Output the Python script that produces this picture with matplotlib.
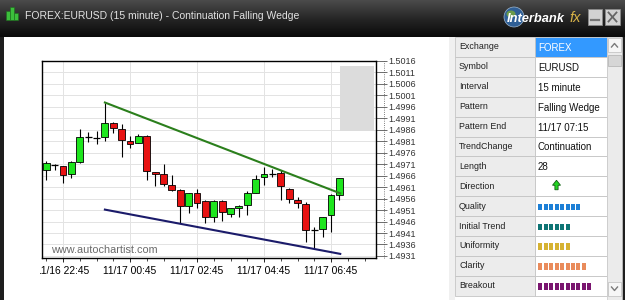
import numpy as np
import pandas as pd
import matplotlib
matplotlib.use("Agg")
import matplotlib.pyplot as plt
from matplotlib.patches import Rectangle, Polygon, Circle, Ellipse
from matplotlib.colors import LinearSegmentedColormap
from matplotlib.transforms import Bbox, TransformedBbox

# ==========================================
# 1. DATA (EURUSD 15 minute candles)
# ==========================================
opens = [1.49686, 1.49705, 1.49700, 1.49666, 1.49719, 1.49830, 1.49823, 1.49830,
         1.49890, 1.49864, 1.49810, 1.49801, 1.49835, 1.49676, 1.49666, 1.49621,
         1.49596, 1.49527, 1.49584, 1.49550, 1.49480, 1.49550, 1.49495, 1.49521,
         1.49531, 1.49585, 1.49654, 1.49666, 1.49671, 1.49604, 1.49556, 1.49535,
         1.49423, 1.49426, 1.49488, 1.49575]
highs = [1.49723, 1.49713, 1.49702, 1.49726, 1.49864, 1.49849, 1.49856, 1.49979,
         1.49892, 1.49885, 1.49835, 1.49843, 1.49838, 1.49677, 1.49712, 1.49661,
         1.49604, 1.49585, 1.49604, 1.49553, 1.49556, 1.49556, 1.49518, 1.49530,
         1.49593, 1.49661, 1.49697, 1.49690, 1.49683, 1.49606, 1.49567, 1.49545,
         1.49437, 1.49480, 1.49582, 1.49652]
lows = [1.49640, 1.49683, 1.49627, 1.49648, 1.49717, 1.49806, 1.49796, 1.49813,
        1.49845, 1.49741, 1.49781, 1.49801, 1.49643, 1.49614, 1.49615, 1.49595,
        1.49454, 1.49498, 1.49517, 1.49454, 1.49459, 1.49463, 1.49480, 1.49480,
        1.49488, 1.49585, 1.49621, 1.49654, 1.49556, 1.49539, 1.49517, 1.49372,
        1.49345, 1.49391, 1.49415, 1.49553]
closes = [1.49715, 1.49705, 1.49664, 1.49719, 1.49830, 1.49830, 1.49823, 1.49890,
          1.49868, 1.49816, 1.49796, 1.49835, 1.49680, 1.49669, 1.49625, 1.49596,
          1.49527, 1.49584, 1.49539, 1.49478, 1.49550, 1.49502, 1.49517, 1.49528,
          1.49584, 1.49647, 1.49666, 1.49666, 1.49614, 1.49560, 1.49539, 1.49423,
          1.49423, 1.49478, 1.49575, 1.49651]

FIRST_CANDLE = "2011-11-16 22:15"
xtick_labels = ["11/16 22:45", "11/17 00:45", "11/17 02:45", "11/17 04:45", "11/17 06:45"]

# wedge lines (candle index, price)
upper_x = [7, 35.1]
upper_y = [1.49979, 1.49583]
lower_x = [7, 35.1]
lower_y = [1.49512, 1.49319]

# grey projection box
box_x = [35.1, 39.1]
box_y = [1.49856, 1.50138]

# info table
table_labels = ["Exchange", "Symbol", "Interval", "Pattern", "Pattern End", "TrendChange",
                "Length", "Direction", "Quality", "Initial Trend", "Uniformity", "Clarity", "Breakout"]
table_values = ["FOREX", "EURUSD", "15 minute", "Falling Wedge", "11/17 07:15", "Continuation", "28"]
rating_blocks = [8, 6, 6, 9, 10]
rating_colors = ["#1c7fd6", "#0e7474", "#d6b232", "#e98b5b", "#7a156f"]

TITLE = "FOREX:EURUSD (15 minute) - Continuation Falling Wedge"

# ==========================================
# 2. WINDOW CHROME
# ==========================================
W, H = 625, 300
fig = plt.figure(figsize=(6.25, 3.0), dpi=100)
fig.patch.set_facecolor("white")

bg = fig.add_axes([0, 0, 1, 1])
bg.axis("off")
bg.set_zorder(0)

# title bar gradient
tb_cmap = LinearSegmentedColormap.from_list("tb", ["#4b4b4b", "#262626", "#0a0a0a"])
bg.imshow(np.linspace(0, 1, 64).reshape(-1, 1), cmap=tb_cmap, extent=[0, W, 37, 0],
          aspect="auto", zorder=1)
bg.set_xlim(0, W)
bg.set_ylim(H, 0)

# side borders
bg.add_patch(Rectangle((0, 37), 4, H - 37, facecolor="#1e1e1e", edgecolor="none", zorder=1))
bg.add_patch(Rectangle((622, 37), 3, H - 37, facecolor="#1e1e1e", edgecolor="none", zorder=1))
bg.add_patch(Rectangle((449, 37), 6, H - 37, facecolor="#f0f0f0", edgecolor="none", zorder=1))

# title icon
for k, (hh, xx) in enumerate([(9, 6), (13, 10), (7, 14)]):
    bg.add_patch(Rectangle((xx, 20 - hh), 3.5, hh, facecolor="#3cbf3c", edgecolor="#1d6e1d",
                           lw=0.4, zorder=2))
bg.text(25, 16, TITLE, color="#e2e2e2", fontsize=7.5, family="Liberation Sans",
        va="center", ha="left", zorder=3)

# logo
bg.add_patch(Circle((514, 17), 10, facecolor="#2f5f96", edgecolor="#9fb6cc", lw=0.5, zorder=2))
bg.add_patch(Ellipse((511, 14), 9, 7, facecolor="#6a9a4a", edgecolor="none", zorder=2))
bg.text(507, 19, "Interbank", color="white", fontsize=9.3, family="Liberation Sans",
        weight="bold", style="italic", va="center", ha="left", zorder=3)
bg.text(570, 18, "fx", color="#d8b347", fontsize=10.5, family="Liberation Sans",
        style="italic", va="center", ha="left", zorder=3)

# window buttons
bg.add_patch(Rectangle((588, 9), 14, 16, facecolor="#d2d2d2", edgecolor="#8a8a8a", lw=0.6, zorder=2))
bg.plot([591, 599], [20, 20], color="#777777", lw=1.6, zorder=3)
bg.add_patch(Rectangle((605, 9), 15, 16, facecolor="#d2d2d2", edgecolor="#8a8a8a", lw=0.6, zorder=2))
bg.plot([608.5, 616.5], [12.5, 21.5], color="#666666", lw=1.3, zorder=3)
bg.plot([608.5, 616.5], [21.5, 12.5], color="#666666", lw=1.3, zorder=3)

# ==========================================
# 3. INFO TABLE
# ==========================================
tx0, txm, tx1 = 455, 535, 607
row_top, row_h = 37, 19.9
for r, name in enumerate(table_labels):
    y = row_top + r * row_h
    bg.add_patch(Rectangle((tx0, y), txm - tx0, row_h, facecolor="#ececec",
                           edgecolor="#c4c4c4", lw=0.6, zorder=2))
    face = "#3399ff" if r == 0 else "white"
    bg.add_patch(Rectangle((txm, y), tx1 - txm, row_h, facecolor=face,
                           edgecolor="#c4c4c4", lw=0.6, zorder=2))
    bg.text(tx0 + 4, y + row_h / 2, name, fontsize=6.4, family="Liberation Sans",
            color="#202020", va="center", ha="left", zorder=3)
    if r < len(table_values):
        bg.text(txm + 3, y + row_h / 2 + 1, table_values[r], fontsize=7.0,
                family="Liberation Sans", color="white" if r == 0 else "#111111",
                va="center", ha="left", zorder=3)

# direction arrow (up)
dy = row_top + 7 * row_h + row_h / 2
ax_c = 556.5
bg.add_patch(Polygon([(ax_c, dy - 6), (ax_c + 4, dy - 1), (ax_c + 1.6, dy - 1), (ax_c + 1.6, dy + 3.5),
                      (ax_c - 1.6, dy + 3.5), (ax_c - 1.6, dy - 1), (ax_c - 4, dy - 1)],
                     closed=True, facecolor="#22d422", edgecolor="#145c14", lw=0.6, zorder=3))

# rating blocks
for k, (nb, col) in enumerate(zip(rating_blocks, rating_colors)):
    yc = row_top + (8 + k) * row_h + row_h / 2 + 0.5
    for b in range(nb):
        bg.add_patch(Rectangle((538.3 + b * 5.45, yc - 3), 4.0, 6.5, facecolor=col,
                               edgecolor="none", zorder=3))

# scrollbar
bg.add_patch(Rectangle((607, 37), 15, H - 37, facecolor="#ebebeb", edgecolor="#c8c8c8", lw=0.5, zorder=2))
bg.add_patch(Rectangle((608, 38), 13, 14, facecolor="#f6f6f6", edgecolor="#bdbdbd", lw=0.5, zorder=3))
bg.add_patch(Rectangle((608, 55), 13, 11, facecolor="#d6d6d6", edgecolor="#b0b0b0", lw=0.5, zorder=3))
bg.add_patch(Rectangle((608, 282), 13, 14, facecolor="#f6f6f6", edgecolor="#bdbdbd", lw=0.5, zorder=3))
bg.plot([611.5, 614.5, 617.5], [47, 43.5, 47], color="#7a7a7a", lw=1.0, zorder=4)
bg.plot([611.5, 614.5, 617.5], [287, 290.5, 287], color="#7a7a7a", lw=1.0, zorder=4)

# ==========================================
# 4. CANDLESTICK CHART
# ==========================================
ax = fig.add_axes([42 / W, 42 / H, 334 / W, 197 / H])
ax.set_zorder(2)
ax.set_facecolor("white")

n = len(opens)
body_w = 0.82
for i in range(n):
    o, h, l, c = opens[i], highs[i], lows[i], closes[i]
    ax.vlines(i, l, h, color="black", lw=0.8, zorder=3)
    if abs(c - o) < 1e-6:
        ax.hlines(o, i - body_w / 2, i + body_w / 2, color="black", lw=0.9, zorder=4)
    else:
        col = "#1ee61e" if c > o else "#e81212"
        ax.add_patch(Rectangle((i - body_w / 2, min(o, c)), body_w, abs(c - o),
                               facecolor=col, edgecolor="black", lw=0.6, zorder=4))

ax.plot(upper_x, upper_y, color="#2b7f1c", lw=1.5, zorder=5)
ax.plot(lower_x, lower_y, color="#1b1b6a", lw=1.5, zorder=5)
ax.add_patch(Rectangle((box_x[0], box_y[0]), box_x[1] - box_x[0], box_y[1] - box_y[0],
                       facecolor="#dcdcdc", edgecolor="none", zorder=2))

ax.set_xlim(-0.51, 39.37)
ax.set_ylim(1.49301, 1.50156)

# x axis (time)
candle_times = pd.date_range(FIRST_CANDLE, periods=n, freq="15min").strftime("%m/%d %H:%M")
xtick_pos = [list(candle_times).index(t) for t in xtick_labels]
ax.set_xticks(xtick_pos)
ax.set_xticklabels(xtick_labels, fontsize=7.4, family="Liberation Sans")
ax.set_xticks(range(0, 40, 2), minor=True)
ax.tick_params(axis="x", which="major", length=3, width=0.6, pad=2.5, colors="black")
ax.tick_params(axis="x", which="minor", length=2, width=0.5)

# y axis (price) on the right
yticks = np.round(np.arange(1.4931, 1.50161, 0.0005), 4)
ax.yaxis.tick_right()
ax.set_yticks(yticks)
ax.set_yticklabels([f"{v:.4f}" for v in yticks], fontsize=6.5, family="Liberation Sans")
ax.tick_params(axis="y", direction="out", length=8, width=0.5, pad=1, colors="#333333")
ax.plot([1 + 8 / 334, 1 + 8 / 334], [0, 1], transform=ax.transAxes, clip_on=False,
        ls=":", color="#555555", lw=0.6)

ax.grid(True, color="#e3e3e3", lw=0.7)
ax.set_axisbelow(True)
for sp in ax.spines.values():
    sp.set_color("black")
    sp.set_linewidth(1.0)

ax.text((51 - 42) / 334, (258 - 250) / 197, "www.autochartist.com", transform=ax.transAxes,
        fontsize=7.8, family="Liberation Sans", color="#6a6a6a", va="center", ha="left", zorder=6)

# first time label is cut off at the left of the chart panel
clip = TransformedBbox(Bbox.from_extents(40 / W, 0, 1, 1), fig.transFigure)
first = ax.get_xticklabels()[0]
first.set_clip_box(clip)
first.set_clip_on(True)

fig.savefig("out.png", dpi=100)
plt.close(fig)
